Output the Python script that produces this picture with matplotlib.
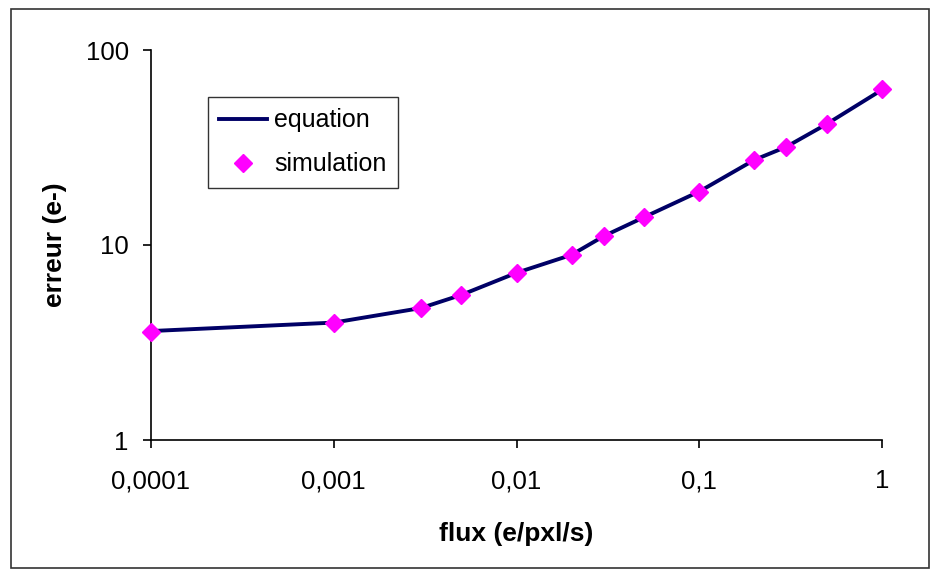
import matplotlib.pyplot as plt
from matplotlib.patches import Rectangle

# valeurs
flux = [0.0001, 0.001, 0.003, 0.005, 0.01, 0.02, 0.03, 0.05, 0.1, 0.2, 0.3, 0.5, 1]
erreur_equation = [3.62, 4.0, 4.75, 5.55, 7.2, 8.9, 11.1, 13.9, 18.8, 27.3, 31.9, 41.8, 62.5]
erreur_simulation = [3.58, 4.0, 4.75, 5.55, 7.2, 8.9, 11.1, 13.9, 18.8, 27.3, 31.9, 41.8, 63]

x_ticks = [0.0001, 0.001, 0.01, 0.1, 1]
x_labels = ['0,0001', '0,001', '0,01', '0,1', '1']
y_ticks = [1, 10, 100]
y_labels = ['1', '10', '100']

plt.rcParams['font.family'] = ['Liberation Sans', 'DejaVu Sans']

W, H = 934, 575
fig = plt.figure(figsize=(W / 100, H / 100), dpi=100)
# zone de tracé en pixels : x 151..882, y 50..440
ax = fig.add_axes([151 / W, (H - 440) / H, (882 - 151) / W, (440 - 50) / H])

# cadre extérieur style Excel
fig.patches.append(Rectangle((11 / W, (H - 568) / H), (929 - 11) / W, (568 - 9) / H,
                             transform=fig.transFigure, fill=False,
                             edgecolor='#333333', linewidth=1.2))

ax.plot(flux, erreur_equation, color='#000066', linewidth=2.8, label='equation', zorder=2)
ax.plot(flux, erreur_simulation, linestyle='none', marker='D', markersize=9.5,
        color='#FF00FF', markeredgecolor='#FF00FF', label='simulation', zorder=3,
        clip_on=False)

ax.set_xscale('log')
ax.set_yscale('log')
ax.set_xlim(0.0001, 1)
ax.set_ylim(1, 100)
ax.set_xticks(x_ticks)
ax.set_xticklabels(x_labels)
ax.set_yticks(y_ticks)
ax.set_yticklabels(y_labels)
ax.minorticks_off()
ax.tick_params(axis='both', direction='out', length=6, width=1.2, labelsize=18.5)
ax.tick_params(axis='x', pad=15)
ax.tick_params(axis='y', pad=10)

for s in ['top', 'right']:
    ax.spines[s].set_visible(False)
for s in ['left', 'bottom']:
    ax.spines[s].set_linewidth(1.2)

ax.set_xlabel('flux (e/pxl/s)', fontsize=19, fontweight='bold')
ax.set_ylabel('erreur (e-)', fontsize=19, fontweight='bold')
ax.xaxis.set_label_coords(0.5, -0.21)
ax.yaxis.set_label_coords(-0.115, 0.5)

leg = ax.legend(loc='upper left', bbox_to_anchor=(0.078, 0.879), borderaxespad=0,
                fontsize=18, frameon=True, fancybox=False, edgecolor='black',
                handlelength=1.9, borderpad=0.45, labelspacing=0.8, handletextpad=0.3)
leg.get_frame().set_linewidth(1.0)

fig.savefig('out.png', dpi=100)
